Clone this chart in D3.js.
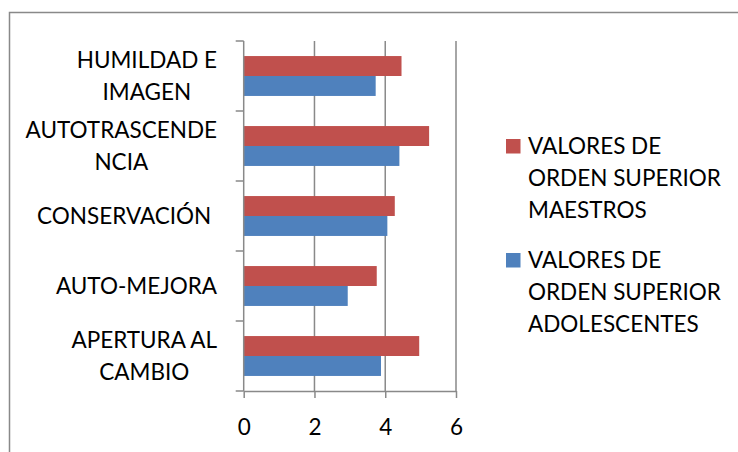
<!DOCTYPE html>
<html>
<head>
<meta charset="utf-8">
<script src="https://cdn.jsdelivr.net/npm/d3@7"></script>
<style>
  body { margin: 0; background: #fff; }
  text { font-family: Lato, "Open Sans", sans-serif; fill: #000; white-space: pre; }
</style>
</head>
<body>
<div id="chart-area"></div>
<script>
// categories top to bottom, lines as shown in the chart
const categories = ["HUMILDAD E IMAGEN", "AUTOTRASCENDENCIA", "CONSERVACIÓN", "AUTO-MEJORA", "APERTURA AL CAMBIO"]
const categoryLines = [["HUMILDAD E", "IMAGEN"], ["AUTOTRASCENDE", "NCIA"], ["CONSERVACIÓN "], ["AUTO-MEJORA"], ["APERTURA AL", "CAMBIO"]]
const maestros = [4.46, 5.24, 4.27, 3.76, 4.96]
const adolescentes = [3.73, 4.40, 4.06, 2.94, 3.88]
const seriesNames = [["VALORES DE", "ORDEN SUPERIOR", "MAESTROS"], ["VALORES DE", "ORDEN SUPERIOR", "ADOLESCENTES"]]
const seriesColors = ["#C0504D", "#4F81BD"]
const xTicks = [0, 2, 4, 6]

const WIDTH = 738
const HEIGHT = 452
const MARGIN = {LEFT: 243.7, TOP: 41, RIGHT: 738 - 456, BOTTOM: 452 - 391}
const FONT = 22.5
const GRID = "#898989"

const svg = d3.select("#chart-area").append("svg")
  .attr("width", WIDTH)
  .attr("height", HEIGHT)

// outer border (runs off the right and bottom)
svg.append("rect")
  .attr("x", 9.5).attr("y", 12.5)
  .attr("width", 800).attr("height", 500)
  .attr("fill", "none")
  .attr("stroke", GRID)
  .attr("stroke-width", 1.5)

const x = d3.scaleLinear()
  .domain([0, 6])
  .range([MARGIN.LEFT, WIDTH - MARGIN.RIGHT])

const y = d3.scaleBand()
  .domain(categories)
  .range([MARGIN.TOP, HEIGHT - MARGIN.BOTTOM])
  .paddingInner(0.43)
  .paddingOuter(0.215)

const yBand = d3.scaleBand()
  .domain(categories)
  .range([MARGIN.TOP, HEIGHT - MARGIN.BOTTOM])

const sub = d3.scaleBand()
  .domain([0, 1])
  .range([0, y.bandwidth()])

// vertical gridlines
svg.append("g").selectAll("line")
  .data(xTicks.slice(1))
  .join("line")
  .attr("x1", d => x(d)).attr("x2", d => x(d))
  .attr("y1", MARGIN.TOP).attr("y2", HEIGHT - MARGIN.BOTTOM)
  .attr("stroke", GRID)
  .attr("stroke-width", 1.5)

// bars
const series = [maestros, adolescentes]
series.forEach((vals, si) => {
  svg.append("g").selectAll("rect")
    .data(categories)
    .join("rect")
    .attr("x", x(0))
    .attr("y", d => y(d) + sub(si))
    .attr("width", (d, i) => x(vals[i]) - x(0))
    .attr("height", sub.bandwidth())
    .attr("fill", seriesColors[si])
})

// x axis
const xAxis = svg.append("g")
  .attr("transform", `translate(0, ${HEIGHT - MARGIN.BOTTOM})`)
  .call(d3.axisBottom(x).tickValues(xTicks).tickFormat(d3.format("d"))
    .tickSize(7).tickPadding(21).tickSizeOuter(0))
xAxis.select(".domain").attr("stroke", GRID).attr("stroke-width", 1.5)
xAxis.selectAll(".tick line").attr("stroke", GRID).attr("stroke-width", 1.5)
xAxis.selectAll("text").attr("font-size", FONT).attr("fill", "#000").attr("font-family", null)

// y axis with ticks between categories
const yAxis = svg.append("g")
svg.append("line")
  .attr("x1", x(0)).attr("x2", x(0))
  .attr("y1", MARGIN.TOP).attr("y2", HEIGHT - MARGIN.BOTTOM)
  .attr("stroke", GRID).attr("stroke-width", 1.5)
const bounds = categories.map(c => yBand(c)).concat([HEIGHT - MARGIN.BOTTOM])
yAxis.selectAll("line")
  .data(bounds)
  .join("line")
  .attr("x1", x(0) - 8).attr("x2", x(0))
  .attr("y1", d => d).attr("y2", d => d)
  .attr("stroke", GRID).attr("stroke-width", 1.5)

// category labels: block right aligned, lines centred on each other
const LINE = 32
const LABEL_RIGHT = 217
categories.forEach((c, i) => {
  const lines = categoryLines[i]
  const g = svg.append("g")
  const cy = yBand(c) + yBand.bandwidth() / 2
  const t = g.selectAll("text")
    .data(lines)
    .join("text")
    .attr("font-size", FONT)
    .attr("text-anchor", "middle")
    .attr("y", (d, j) => cy + 8 + (j - (lines.length - 1) / 2) * LINE)
    .text(d => d)
  const w = d3.max(t.nodes(), n => n.getComputedTextLength())
  t.attr("x", LABEL_RIGHT - w / 2)
})

// legend
const legendTop = [154, 268]
seriesNames.forEach((names, si) => {
  svg.append("rect")
    .attr("x", 506).attr("y", legendTop[si] - 15)
    .attr("width", 14.5).attr("height", 14.5)
    .attr("fill", seriesColors[si])
  svg.append("g").selectAll("text")
    .data(names)
    .join("text")
    .attr("x", 528)
    .attr("y", (d, j) => legendTop[si] + j * LINE)
    .attr("font-size", FONT)
    .text(d => d)
})
</script>
</body>
</html>
